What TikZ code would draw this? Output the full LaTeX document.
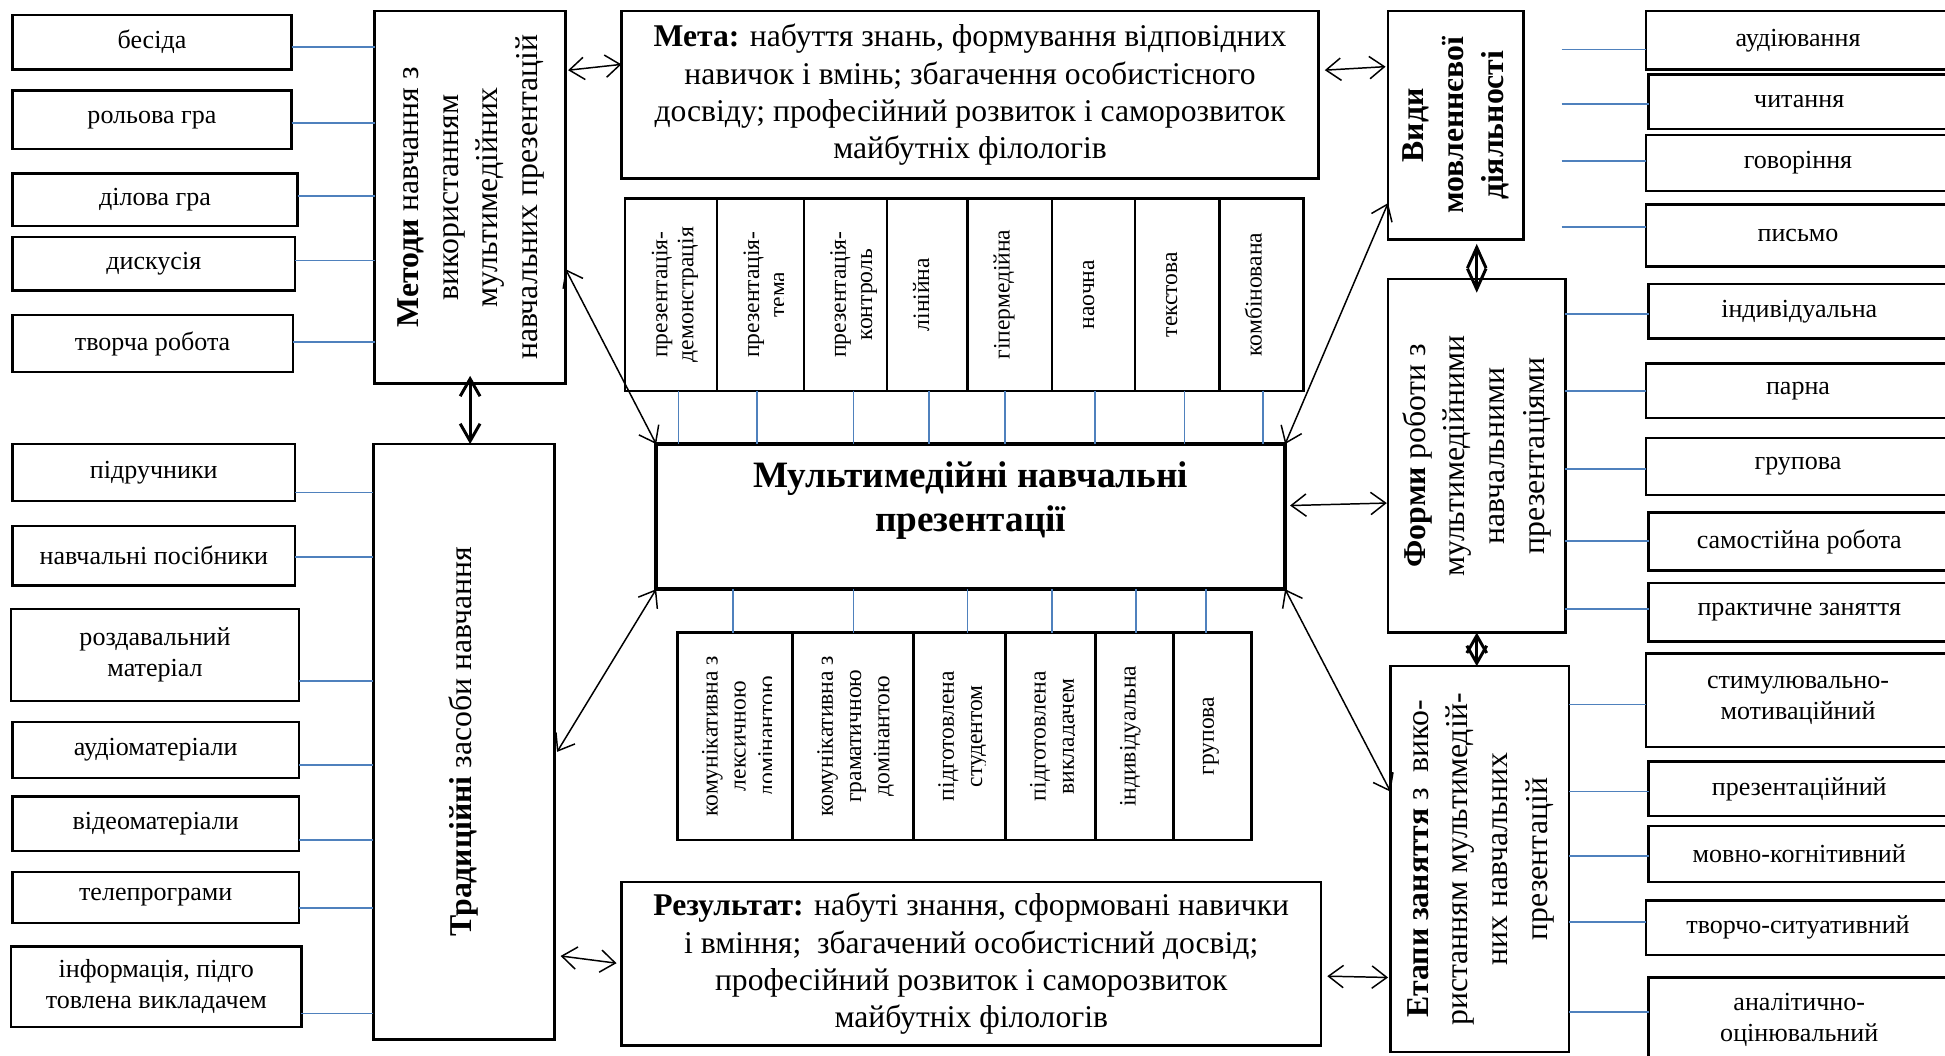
\documentclass[tikz,border=0pt]{standalone}
\usepackage{fontspec}
\setmainfont{LiberationSerif}[Extension=.ttf,UprightFont=*-Regular,BoldFont=*-Bold,ItalicFont=*-Italic,BoldItalicFont=*-BoldItalic]
\usepackage{graphicx}
\usetikzlibrary{arrows.meta,calc}
\definecolor{lineblue}{RGB}{79,129,189}
\newcommand\mkbox[7]{\node[#1,minimum width={(#5-#3)*0.5pt},minimum height={(#6-#4)*0.5pt}] (#2) at ({(#3+#5)/2},{(#4+#6)/2}) {#7};}
\newcommand\vtext[1]{\rotatebox{90}{\begin{tabular}{@{}c@{}}#1\end{tabular}}}
\begin{document}
\begin{tikzpicture}[x=0.5pt,y=-0.5pt,
 every node/.style={inner sep=0pt,outer sep=0pt},
 sbox/.style={draw,line width=1pt,font=\fontsize{10.5}{12.5}\selectfont,align=center},
 bigbox/.style={draw,line width=1pt,font=\fontsize{12.8}{16}\selectfont},
 goalbox/.style={draw,line width=1pt,font=\fontsize{12.75}{15}\selectfont,align=center},
 titlebox/.style={draw,line width=1.7pt},
 cell/.style={draw,line width=1pt},
 celltext/.style={anchor=west,font=\fontsize{9.5}{10.5}\selectfont},
 celltextb/.style={anchor=west,font=\fontsize{9.5}{11.35}\selectfont},
 bl/.style={draw=lineblue,line width=0.7pt},
 biarrow/.style={{Straight Barb[length=6pt,width=9pt]}-{Straight Barb[length=6pt,width=9pt]},line width=0.6pt},
 thickA/.style={{Straight Barb[length=7pt,width=8pt]}-{Straight Barb[length=7pt,width=8pt]},line width=1.2pt},
 kiteA/.style={{Straight Barb[length=8.3pt,width=7.5pt]}-{Straight Barb[length=8.3pt,width=7.5pt]},line width=1.2pt},
 diamA/.style={{Straight Barb[length=7pt,width=8pt]}-{Straight Barb[length=7pt,width=8pt]},line width=1.2pt}
]
\useasboundingbox (0,0) rectangle (1568,851);
\clip (0,0) rectangle (1568,851);
\fill[white] (0,0) rectangle (1568,851);

% ---- left group: methods
\mkbox{sbox}{a1}{10}{12}{235}{56}{бесіда}
\mkbox{sbox}{a2}{10}{73}{235}{120}{рольова гра}
\mkbox{sbox}{a3}{10}{140}{240}{182}{ділова гра}
\mkbox{sbox}{a4}{10}{191}{238}{234}{дискусія}
\mkbox{sbox}{a5}{10}{254}{236}{300}{творча робота}
\mkbox{bigbox}{metody}{302}{9}{456}{309}{\vtext{\textbf{Методи} навчання з\\використанням\\мультимедійних\\навчальних презентацій}}
\draw[bl] (a1.east |- 0,38) -- (metody.west |- 0,38);
\draw[bl] (a2.east |- 0,99) -- (metody.west |- 0,99);
\draw[bl] (a3.east |- 0,158) -- (metody.west |- 0,158);
\draw[bl] (a4.east |- 0,210) -- (metody.west |- 0,210);
\draw[bl] (a5.east |- 0,276) -- (metody.west |- 0,276);

% ---- left group: traditional means
\mkbox{sbox}{b1}{10}{358}{238}{404}{підручники}
\mkbox{sbox}{b2}{10}{424}{238}{472}{навчальні посібники}
\mkbox{sbox}{b3}{9}{491}{241}{565}{роздавальний\\матеріал}
\mkbox{sbox}{b4}{10}{582}{241}{627}{аудіоматеріали}
\mkbox{sbox}{b5}{10}{642}{241}{686}{відеоматеріали}
\mkbox{sbox}{b6}{10}{703}{241}{744}{телепрограми}
\mkbox{sbox}{b7}{9}{763}{243}{828}{інформація, підго\\товлена викладачем}
\mkbox{bigbox}{trad}{301}{358}{447}{838}{\vtext{\textbf{Традиційні} засоби навчання}}
\draw[bl] (b1.east |- 0,397) -- (trad.west |- 0,397);
\draw[bl] (b2.east |- 0,449) -- (trad.west |- 0,449);
\draw[bl] (b3.east |- 0,549) -- (trad.west |- 0,549);
\draw[bl] (b4.east |- 0,617) -- (trad.west |- 0,617);
\draw[bl] (b5.east |- 0,677) -- (trad.west |- 0,677);
\draw[bl] (b6.east |- 0,732) -- (trad.west |- 0,732);
\draw[bl] (b7.east |- 0,817) -- (trad.west |- 0,817);

% ---- centre
\mkbox{goalbox}{meta}{501}{9}{1063}{144}{\textbf{Мета:} набуття знань, формування відповідних\\навичок і вмінь; збагачення особистісного\\досвіду; професійний розвиток і саморозвиток\\майбутніх філологів}
\mkbox{goalbox}{result}{501}{711}{1065}{843}{\textbf{Результат:} набуті знання, сформовані навички\\і вміння;\ \ збагачений особистісний досвід;\\професійний розвиток і саморозвиток\\майбутніх філологів}
\mkbox{titlebox}{title}{529}{358}{1036}{475}{}
\node[font=\fontsize{15}{17.5}\selectfont\bfseries,align=center] (titletext) at (782.5,403.5) {Мультимедійні навчальні\\презентації};

% top cells
\mkbox{cell}{t1}{504}{160}{578}{315}{}
\mkbox{cell}{t2}{578}{160}{648}{315}{}
\mkbox{cell}{t3}{648}{160}{715}{315}{}
\mkbox{cell}{t4}{715}{160}{780}{315}{}
\mkbox{cell}{t5}{780}{160}{848}{315}{}
\mkbox{cell}{t6}{848}{160}{915}{315}{}
\mkbox{cell}{t7}{915}{160}{983}{315}{}
\mkbox{cell}{t8}{983}{160}{1051}{315}{}
\begin{scope}\clip (504,160) rectangle (562,315);
\node[celltext] (t1t) at (523.3,237.5) {\vtext{презентація-\\демонстрація}};
\end{scope}
\begin{scope}\clip (578,160) rectangle (632,315);
\node[celltext] (t2t) at (597.3,237.5) {\vtext{презентація-\\тема}};
\end{scope}
\begin{scope}\clip (648,160) rectangle (707,315);
\node[celltext] (t3t) at (667.3,237.5) {\vtext{презентація-\\контроль}};
\end{scope}
\node[celltext] (t4t) at (734.3,237.5) {\vtext{лінійна}};
\node[celltext] (t5t) at (799.3,237.5) {\vtext{гіпермедійна}};
\node[celltext] (t6t) at (867.3,237.5) {\vtext{наочна}};
\node[celltext] (t7t) at (934.3,237.5) {\vtext{текстова}};
\node[celltext] (t8t) at (1002.3,237.5) {\vtext{комбінована}};
\draw[bl] (t1.south -| 547,0) -- (title.north -| 547,0);
\draw[bl] (t2.south -| 610,0) -- (title.north -| 610,0);
\draw[bl] (t3.south -| 688,0) -- (title.north -| 688,0);
\draw[bl] (t4.south -| 749,0) -- (title.north -| 749,0);
\draw[bl] (t5.south -| 810,0) -- (title.north -| 810,0);
\draw[bl] (t6.south -| 883,0) -- (title.north -| 883,0);
\draw[bl] (t7.south -| 955,0) -- (title.north -| 955,0);
\draw[bl] (t8.south -| 1018,0) -- (title.north -| 1018,0);

% bottom cells
\mkbox{cell}{u1}{546}{510}{639}{677}{}
\mkbox{cell}{u2}{639}{510}{736.5}{677}{}
\mkbox{cell}{u3}{736.5}{510}{810.5}{677}{}
\mkbox{cell}{u4}{810.5}{510}{883}{677}{}
\mkbox{cell}{u5}{883}{510}{946}{677}{}
\mkbox{cell}{u6}{946}{510}{1009}{677}{}
\begin{scope}\clip (546,510) rectangle (622,677);
\node[celltextb] (u1t) at (562.6,593.5) {\vtext{комунікативна з\\лексичною\\домінантою}};
\end{scope}
\node[celltextb] (u2t) at (655.6,593.5) {\vtext{комунікативна з\\граматичною\\домінантою}};
\begin{scope}\clip (736.5,510) rectangle (794.5,677);
\node[celltextb] (u3t) at (753.1,593.5) {\vtext{підготовлена\\студентом}};
\end{scope}
\begin{scope}\clip (810.5,510) rectangle (866.5,677);
\node[celltextb] (u4t) at (827.1,593.5) {\vtext{підготовлена\\викладачем}};
\end{scope}
\node[celltextb] (u5t) at (899.6,593.5) {\vtext{індивідуальна}};
\node[celltextb] (u6t) at (962.6,593.5) {\vtext{групова}};
\draw[bl] (title.south -| 591,0) -- (u1.north -| 591,0);
\draw[bl] (title.south -| 688,0) -- (u2.north -| 688,0);
\draw[bl] (title.south -| 780,0) -- (u3.north -| 780,0);
\draw[bl] (title.south -| 848,0) -- (u4.north -| 848,0);
\draw[bl] (title.south -| 915.5,0) -- (u5.north -| 915.5,0);
\draw[bl] (title.south -| 972,0) -- (u6.north -| 972,0);

% ---- right column
\mkbox{bigbox}{vydy}{1119}{9}{1228}{193}{\vtext{\textbf{Види}\\\textbf{мовленнєвої}\\\textbf{діяльності}}}
\mkbox{sbox}{r1}{1327}{9}{1572}{56}{аудіювання}
\mkbox{sbox}{r2}{1329}{60}{1572}{104}{читання}
\mkbox{sbox}{r3}{1327}{109}{1572}{154}{говоріння}
\mkbox{sbox}{r4}{1327}{165}{1572}{215}{письмо}
\coordinate (vx) at ([xshift=15.5pt]vydy.east);
\draw[bl] (vx |- 0,40) -- (r1.west |- 0,40);
\draw[bl] (vx |- 0,84) -- (r2.west |- 0,84);
\draw[bl] (vx |- 0,130) -- (r3.west |- 0,130);
\draw[bl] (vx |- 0,183) -- (r4.west |- 0,183);

\mkbox{bigbox}{forms}{1119}{225}{1262}{510}{\vtext{\textbf{Форми} роботи з\\мультимедійними\\навчальними\\презентаціями}}
\mkbox{sbox}{f1}{1329}{229}{1572}{273}{індивідуальна}
\mkbox{sbox}{f2}{1327}{293}{1572}{337}{парна}
\mkbox{sbox}{f3}{1327}{353}{1572}{399}{групова}
\mkbox{sbox}{f4}{1329}{413}{1572}{460}{самостійна робота}
\mkbox{sbox}{f5}{1329}{470}{1572}{517}{практичне заняття}
\draw[bl] (forms.east |- 0,253) -- (f1.west |- 0,253);
\draw[bl] (forms.east |- 0,315) -- (f2.west |- 0,315);
\draw[bl] (forms.east |- 0,378) -- (f3.west |- 0,378);
\draw[bl] (forms.east |- 0,436) -- (f4.west |- 0,436);
\draw[bl] (forms.east |- 0,491) -- (f5.west |- 0,491);

\mkbox{bigbox}{etapy}{1121}{537}{1265}{848}{\vtext{\textbf{Етапи заняття} з\ \ вико-\\ристанням мультимедій-\\них навчальних\\презентацій}}
\mkbox{sbox}{e1}{1327}{527}{1572}{602}{стимулювально-\\мотиваційний}
\mkbox{sbox}{e2}{1329}{614}{1572}{658}{презентаційний}
\mkbox{sbox}{e3}{1329}{666}{1572}{711}{мовно-когнітивний}
\mkbox{sbox}{e4}{1327}{726}{1572}{770}{творчо-ситуативний}
\mkbox{sbox}{e5}{1329}{788}{1572}{857}{аналітично-\\оцінювальний}
\draw[bl] (etapy.east |- 0,568) -- (e1.west |- 0,568);
\draw[bl] (etapy.east |- 0,638) -- (e2.west |- 0,638);
\draw[bl] (etapy.east |- 0,690) -- (e3.west |- 0,690);
\draw[bl] (etapy.east |- 0,743) -- (e4.west |- 0,743);
\draw[bl] (etapy.east |- 0,816) -- (e5.west |- 0,816);

% ---- arrows
\draw[biarrow,shorten <=1pt] (metody.53.5) -- (meta.175.6);
\draw[biarrow,shorten <=2.5pt,shorten >=1pt] (meta.4.4) -- (vydy.139.8);
\draw[biarrow,shorten <=2.5pt,shorten >=2pt] (trad.-67.6) -- (result.west);
\draw[biarrow,shorten <=2.5pt,shorten >=1pt] (result.-2.8) -- (etapy.233.8);
\draw[biarrow] (metody.-37.5) -- (title.north west);
\draw[biarrow,shorten <=2pt] (trad.-9) -- (title.south west);
\draw[biarrow] (title.north east) -- (vydy.229.4);
\draw[biarrow,shorten <=2pt,shorten >=0.5pt] (title.2.4) -- (forms.208.6);
\draw[biarrow] (title.south east) -- (etapy.143);
\draw[thickA,shorten <=-3pt] (metody.south) -- (metody.south |- trad.north);
\draw[kiteA,shorten <=1.8pt,shorten >=-5.5pt] (forms.north |- vydy.south) -- (forms.north);
\draw[diamA] (forms.south) -- (forms.south |- etapy.north);
\end{tikzpicture}
\end{document}
